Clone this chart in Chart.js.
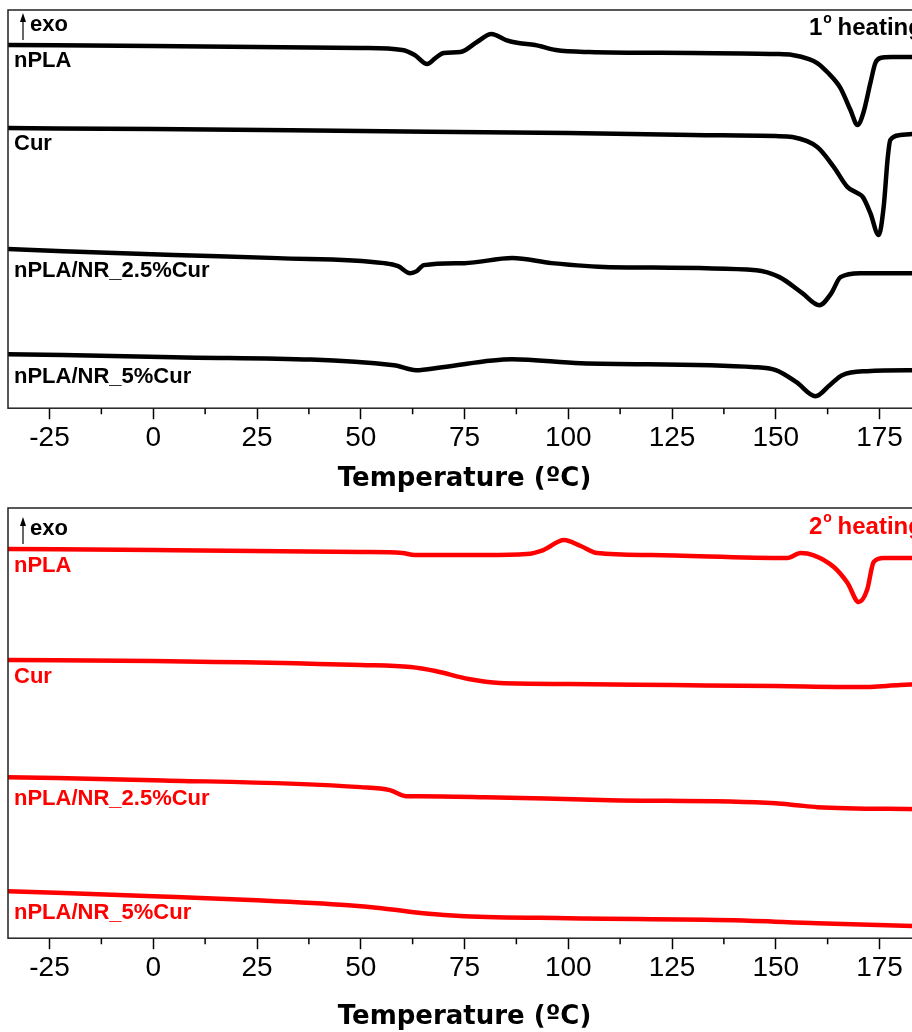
<!DOCTYPE html>
<html>
<head>
<meta charset="utf-8">
<script src="https://cdn.jsdelivr.net/npm/chart.js@4.4.1/dist/chart.umd.min.js"></script>
<style>
  html, body { margin:0; padding:0; background:#fff; overflow:hidden; width:912px; height:1032px; }
  canvas { display:block; }
</style>
</head>
<body>
<canvas id="heat1" width="960" height="500"></canvas>
<canvas id="heat2" width="960" height="534"></canvas>
<script>
// DSC traces (arbitrary heat flow units, curves offset)
const xTicks = [-25, 0, 25, 50, 75, 100, 125, 150, 175];
const xMinorTicks = [-12.5, 12.5, 37.5, 62.5, 87.5, 112.5, 137.5, 162.5];
const sampleNames = ['nPLA', 'Cur', 'nPLA/NR_2.5%Cur', 'nPLA/NR_5%Cur'];

// 1st heating
const h1T_nPLA = [-35, 0, 50, 60, 63, 66, 68, 70, 74, 78, 81.5, 85, 88, 92, 97, 105, 130, 150, 154, 158, 160, 162.4, 165.6, 168, 169.7, 171.1, 172.8, 174, 175.2, 178, 185];
const h1Y_nPLA = [36.3, 36.2, 36.0, 35.8, 35.3, 34.4, 35.0, 35.5, 35.6, 36.6, 37.4, 36.8, 36.5, 36.3, 35.8, 35.6, 35.5, 35.4, 35.3, 34.9, 34.5, 33.6, 32.0, 29.8, 28.3, 29.5, 32.5, 34.5, 35.0, 35.1, 35.1];
const h1T_cur = [-35, 0, 50, 100, 130, 150, 154, 160, 164, 167.3, 169.7, 171, 172.8, 174.8, 176, 177, 177.6, 180, 185];
const h1Y_cur = [28.0, 27.9, 27.7, 27.5, 27.3, 27.2, 27.1, 26.1, 24.1, 22.1, 21.5, 21.1, 19.5, 17.3, 20.1, 25.1, 26.8, 27.3, 27.5];
const h1T_nr25 = [-35, 5, 30, 55.6, 59, 61.9, 63.5, 65.2, 75, 86.5, 96, 110, 145.3, 150.9, 156.4, 160.5, 163.4, 165.6, 170.4, 185];
const h1Y_nr25 = [15.9, 15.3, 15.0, 14.5, 14.2, 13.5, 13.7, 14.3, 14.5, 15.0, 14.5, 14.1, 13.8, 13.1, 11.5, 10.3, 11.5, 13.1, 13.5, 13.5];
const h1T_nr5 = [-35, 5, 58, 63.3, 69.6, 86.5, 103, 145, 150, 155, 159.6, 163, 166, 172, 185];
const h1Y_nr5 = [5.4, 5.1, 4.3, 3.8, 4.1, 4.9, 4.5, 4.1, 3.8, 2.6, 1.2, 2.3, 3.3, 3.7, 3.8];
const h1LabelY = [34.7, 26.4, 13.7, 3.1];

// 2nd heating
const h2T_nPLA = [-35, 0, 50, 60, 63, 80, 90, 94, 99, 103, 107, 120, 152.8, 156, 159, 164, 167.3, 170, 172, 173.6, 176, 185];
const h2Y_nPLA = [38.9, 38.8, 38.6, 38.5, 38.3, 38.3, 38.4, 38.8, 39.8, 39.2, 38.5, 38.3, 38.0, 38.5, 38.3, 37.1, 35.5, 33.6, 34.8, 37.6, 38.0, 38.0];
const h2T_cur = [-35, 0, 50, 62, 68, 76, 83.5, 100, 125, 150, 170, 180, 185];
const h2Y_cur = [27.8, 27.7, 27.3, 27.1, 26.7, 25.9, 25.5, 25.4, 25.3, 25.2, 25.1, 25.3, 25.4];
const h2T_nr25 = [-35, 0, 50, 57, 61, 64, 80, 110, 150, 155, 160, 185];
const h2Y_nr25 = [16.1, 15.8, 15.1, 14.8, 14.2, 14.2, 14.1, 13.8, 13.5, 13.3, 13.1, 12.9];
const h2T_nr5 = [-35, 0, 25, 47, 55, 65, 75, 100, 140, 160, 185];
const h2Y_nr5 = [4.7, 4.2, 3.8, 3.3, 3.0, 2.5, 2.2, 2.0, 1.8, 1.5, 1.2];
const h2LabelY = [37.2, 26.1, 13.9, 2.5];

const FONT = '"Liberation Sans", Arial, sans-serif';
const pts = (t, v) => t.map((x, i) => ({ x: x, y: v[i] }));

const annot = {
  id: 'annot',
  afterDatasetsDraw(chart, args, o) {
    const { ctx, chartArea: a, scales: { x, y } } = chart;
    ctx.save();
    // frame
    ctx.strokeStyle = '#222'; ctx.lineWidth = 1.5;
    ctx.strokeRect(a.left, a.top, a.right - a.left, a.bottom - a.top);
    // minor ticks
    ctx.strokeStyle = '#000';
    ctx.beginPath();
    xMinorTicks.forEach(v => { const px = x.getPixelForValue(v); ctx.moveTo(px, a.bottom); ctx.lineTo(px, a.bottom + 6); });
    ctx.stroke();
    // curve names
    ctx.fillStyle = o.color; ctx.textBaseline = 'middle'; ctx.textAlign = 'left';
    ctx.font = 'bold 22px ' + FONT;
    sampleNames.forEach((n, i) => ctx.fillText(n, a.left + 6, y.getPixelForValue(o.labelY[i])));
    // exo arrow
    const ax = a.left + 15;
    ctx.strokeStyle = '#000'; ctx.fillStyle = '#000'; ctx.lineWidth = 1.2;
    ctx.beginPath(); ctx.moveTo(ax, a.top + o.exoY + 15); ctx.lineTo(ax, a.top + o.exoY - 6); ctx.stroke();
    ctx.beginPath(); ctx.moveTo(ax, a.top + o.exoY - 12); ctx.lineTo(ax - 3, a.top + o.exoY - 3); ctx.lineTo(ax + 3, a.top + o.exoY - 3); ctx.closePath(); ctx.fill();
    ctx.font = 'bold 22px ' + FONT;
    ctx.fillText('exo', a.left + 22, a.top + o.exoY);
    // heating tag
    ctx.fillStyle = o.color;
    let tx = 809;
    const ty = a.top + o.tagY;
    ctx.font = 'bold 24px ' + FONT;
    const w1 = ctx.measureText(o.num).width;
    ctx.fillText(o.num, tx, ty);
    ctx.font = 'bold 14px ' + FONT;
    const w2 = ctx.measureText('o').width;
    ctx.fillText('o', tx + w1 + 1, ty - 9);
    ctx.font = 'bold 24px ' + FONT;
    ctx.fillText(' heating', tx + w1 + w2, ty);
    ctx.restore();
  }
};

function makeChart(id, series, color, yMax, padTop, titlePad, extra) {
  new Chart(document.getElementById(id), {
    type: 'line',
    data: {
      datasets: series.map((s, i) => ({
        label: sampleNames[i], data: s, borderColor: color, borderWidth: 4.5,
        pointRadius: 0, fill: false, cubicInterpolationMode: 'monotone', tension: 0.4
      }))
    },
    options: {
      responsive: false, animation: false,
      layout: { padding: { left: 8, right: 39, top: padTop, bottom: 0 } },
      plugins: { legend: { display: false }, tooltip: { enabled: false }, annot: Object.assign({ color: color }, extra) },
      scales: {
        x: {
          type: 'linear', min: -35, max: 185, position: 'bottom',
          afterBuildTicks: s => { s.ticks = xTicks.map(v => ({ value: v })); },
          grid: { drawOnChartArea: false, tickLength: 11, tickWidth: 1.5, tickColor: '#000' },
          border: { display: false },
          ticks: { font: { family: FONT, size: 28 }, color: '#000', padding: 2, maxRotation: 0, autoSkip: false },
          title: { display: true, text: 'Temperature (ºC)', color: '#000', font: { family: '"DejaVu Sans", Verdana, sans-serif', size: 26, weight: 'bold' }, padding: titlePad }
        },
        y: { display: false, min: 0, max: yMax }
      }
    },
    plugins: [annot]
  });
}

makeChart('heat1',
  [pts(h1T_nPLA, h1Y_nPLA), pts(h1T_cur, h1Y_cur), pts(h1T_nr25, h1Y_nr25), pts(h1T_nr5, h1Y_nr5)],
  '#000000', 39.8, 10, { top: 7, bottom: 5 },
  { labelY: h1LabelY, exoY: 15, tagY: 18, num: '1' });

makeChart('heat2',
  [pts(h2T_nPLA, h2Y_nPLA), pts(h2T_cur, h2Y_cur), pts(h2T_nr25, h2Y_nr25), pts(h2T_nr5, h2Y_nr5)],
  '#ff0000', 43, 8, { top: 15, bottom: 1 },
  { labelY: h2LabelY, exoY: 21, tagY: 19, num: '2' });
</script>
</body>
</html>
